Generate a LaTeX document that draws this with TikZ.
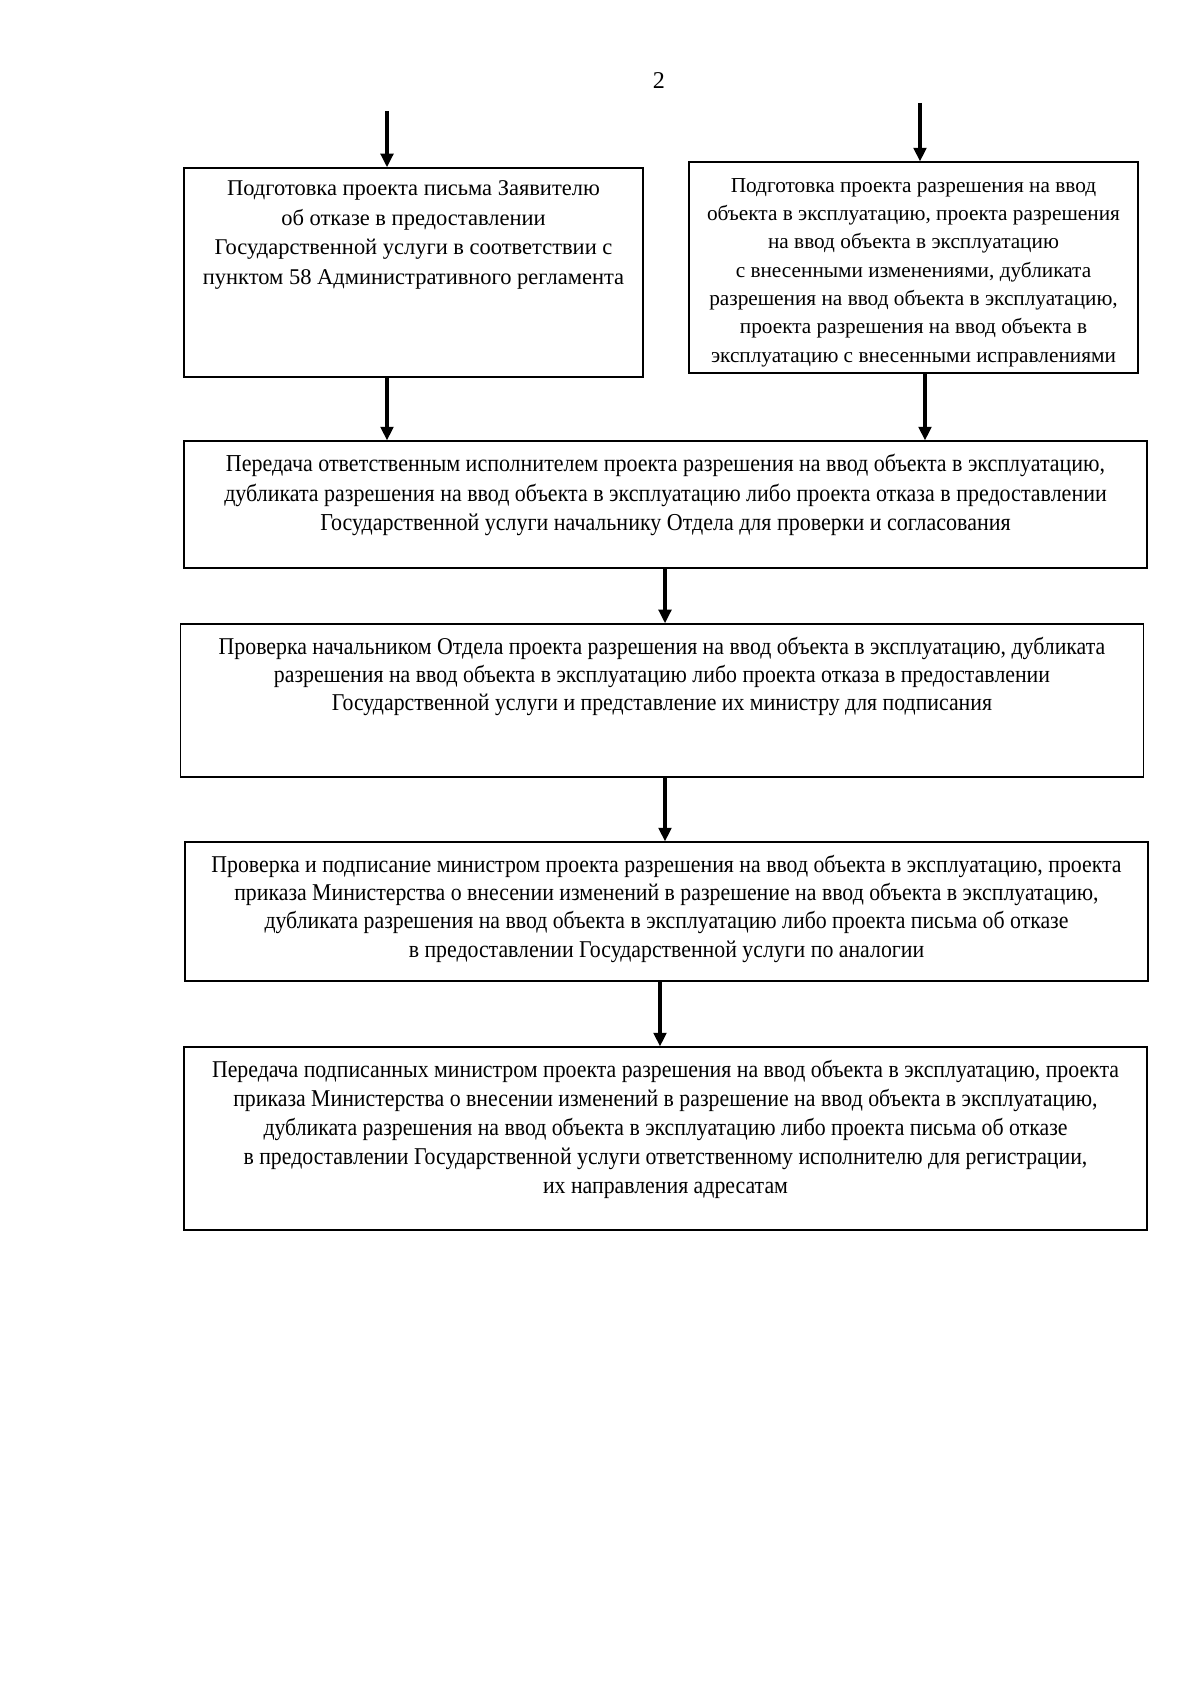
\documentclass[tikz,border=0pt]{standalone}
\usepackage{fontspec}
\setmainfont{Liberation Serif}
\newfontfamily\narrowserif[FakeStretch=0.905]{Liberation Serif}
\usetikzlibrary{positioning,arrows.meta}
\tikzset{
  stepframe/.style={rectangle, draw, line width=0.6pt, inner sep=0pt},
  steptext/.style={align=center, inner sep=0pt,
                   font=\narrowserif\fontsize{12}{14.1}\selectfont},
  flowarrow/.style={line width=1.9pt,
                    -{Triangle[length=2.4mm, width=2.2mm]}}
}

\begin{document}
\begin{tikzpicture}[
    x=0.175mm, y=-0.175mm,
    wide/.style={stepframe, minimum width=168.5mm}
]
  \useasboundingbox (0,0) rectangle (1200,1697);
  \node[font=\fontsize{12}{14}\selectfont] (pagenum) at (659,81) {2};
  \node[stepframe, minimum width=80.3mm, minimum height=36.6mm] (b1) at (413.5,272.5) {};
  \node[stepframe, minimum width=78.6mm, minimum height=36.9mm] (b2) at (913.5,267.5) {};
  \node[wide, minimum height=22.2mm] (b3) at (665.5,504.5) {};
  \node[wide, minimum height=26.8mm] (b4) at (662,700.5) {};
  \node[wide, minimum height=24.3mm] (b5) at (666.5,911.5) {};
  \node[wide, minimum height=32mm] (b6) at (665.5,1138.5) {};
  \node[steptext, font=\fontsize{11.2}{14.7}\selectfont, below=2.3mm of b1.north] (t1)
    {Подготовка проекта письма Заявителю\\об отказе в предоставлении\\
     Государственной услуги в соответствии с\\пунктом 58 Административного регламента};
  \node[steptext, font=\fontsize{10.6}{14.1}\selectfont, below=2.85mm of b2.north] (t2)
    {Подготовка проекта разрешения на ввод\\объекта в эксплуатацию, проекта разрешения\\
     на ввод объекта в эксплуатацию\\с внесенными изменениями, дубликата\\
     разрешения на ввод объекта в эксплуатацию,\\проекта разрешения на ввод объекта в\\
     эксплуатацию с внесенными исправлениями};
  \node[steptext, font=\narrowserif\fontsize{12.1}{14.8}\selectfont, below=2.3mm of b3.north] (t3)
    {Передача ответственным исполнителем проекта разрешения на ввод объекта в эксплуатацию,\\
     дубликата разрешения на ввод объекта в эксплуатацию либо проекта отказа в предоставлении\\
     Государственной услуги начальнику Отдела для проверки и согласования};
  \node[steptext, below=2.3mm of b4.north] (t4)
    {Проверка начальником Отдела проекта разрешения на ввод объекта в эксплуатацию, дубликата\\
     разрешения на ввод объекта в эксплуатацию либо проекта отказа в предоставлении\\
     Государственной услуги и представление их министру для подписания};
  \node[steptext, below=2.3mm of b5.north] (t5)
    {Проверка и подписание министром проекта разрешения на ввод объекта в эксплуатацию, проекта\\
     приказа Министерства о внесении изменений в разрешение на ввод объекта в эксплуатацию,\\
     дубликата разрешения на ввод объекта в эксплуатацию либо проекта письма об отказе\\
     в предоставлении Государственной услуги по аналогии};
  \node[steptext, font=\narrowserif\fontsize{12}{14.5}\selectfont, below=2.3mm of b6.north] (t6)
    {Передача подписанных министром проекта разрешения на ввод объекта в эксплуатацию, проекта\\
     приказа Министерства о внесении изменений в разрешение на ввод объекта в эксплуатацию,\\
     дубликата разрешения на ввод объекта в эксплуатацию либо проекта письма об отказе\\
     в предоставлении Государственной услуги ответственному исполнителю для регистрации,\\
     их направления адресатам};
  \coordinate (in1) at (387,111);
  \coordinate (in2) at (920,103);
  \coordinate (out2) at (925,0);
  \coordinate (mid) at (665,0);
  \coordinate (last) at (660,0);
  \draw[flowarrow] (in1) -- (in1 |- b1.north);
  \draw[flowarrow] (in2) -- (in2 |- b2.north);
  \draw[flowarrow] (in1 |- b1.south) -- (in1 |- b3.north);
  \draw[flowarrow] (out2 |- b2.south) -- (out2 |- b3.north);
  \draw[flowarrow] (mid |- b3.south) -- (mid |- b4.north);
  \draw[flowarrow] (mid |- b4.south) -- (mid |- b5.north);
  \draw[flowarrow] (last |- b5.south) -- (last |- b6.north);
\end{tikzpicture}
\end{document}
